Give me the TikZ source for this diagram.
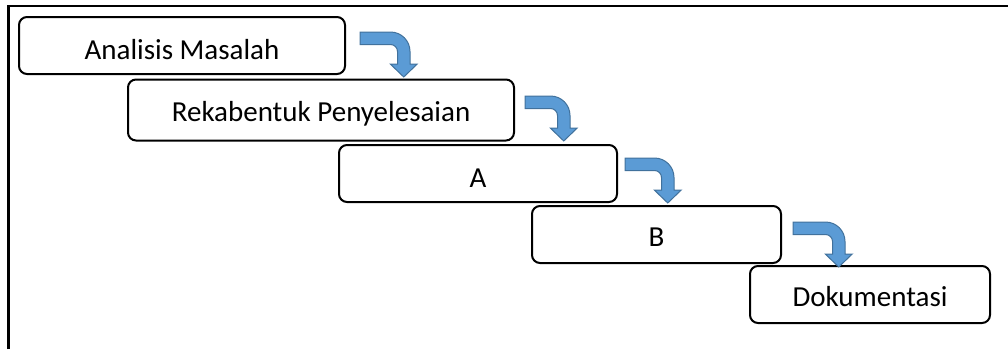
\documentclass[tikz,border=0pt]{standalone}
\usepackage{fontspec}
\setmainfont{Carlito}
\definecolor{arrowfill}{RGB}{91,155,213}
\definecolor{arrowline}{RGB}{65,113,156}
\begin{document}
\begin{tikzpicture}[x=1pt,y=1pt,
  stepbox/.style={draw=black, line width=2pt, rounded corners=8pt, inner sep=0pt,
    font=\fontsize{29}{34}\selectfont},
  bentarrow/.style={fill=arrowfill, draw=arrowline, line width=1pt, line join=miter},
  pics/barrow/.style={code={
    \path[bentarrow] (0,0) -- ({#1-19.5},0) arc[start angle=90,end angle=0,radius=19.5]
      -- (#1,-32) -- ({#1+7.25},-32) -- ({#1-6.25},-45) -- ({#1-19.75},-32)
      -- ({#1-12.5},-32) -- ({#1-12.5},-19.5) arc[start angle=0,end angle=90,radius=7]
      -- (0,-12.5) -- cycle;
  }}]
\useasboundingbox (0,0) rectangle (1008,-349);
\draw[line width=2.5pt] (8.3,-349) -- (8.3,-6) -- (1008,-6);
\node[stepbox, minimum width=326pt, text height=42pt, text depth=15pt] (n1) at (182,-45.5) {Analisis Masalah};
\node[stepbox, minimum width=386pt, text height=41.5pt, text depth=19.5pt] (n2) at (321,-110) {Rekabentuk Penyelesaian};
\node[stepbox, minimum width=278pt, text height=42pt, text depth=15pt] (n3) at (478,-173.5) {A};
\node[stepbox, minimum width=249pt, text height=40.5pt, text depth=16.5pt] (n4) at (656.5,-234.5) {B};
\node[stepbox, minimum width=240pt, text height=40.5pt, text depth=16.5pt] (n5) at (870,-294.5) {Dokumentasi};
\pic at (360,-32) {barrow=50};
\pic at (525,-96) {barrow=45};
\pic at (625,-158) {barrow=49};
\pic at (793,-222) {barrow=52};
\end{tikzpicture}
\end{document}
